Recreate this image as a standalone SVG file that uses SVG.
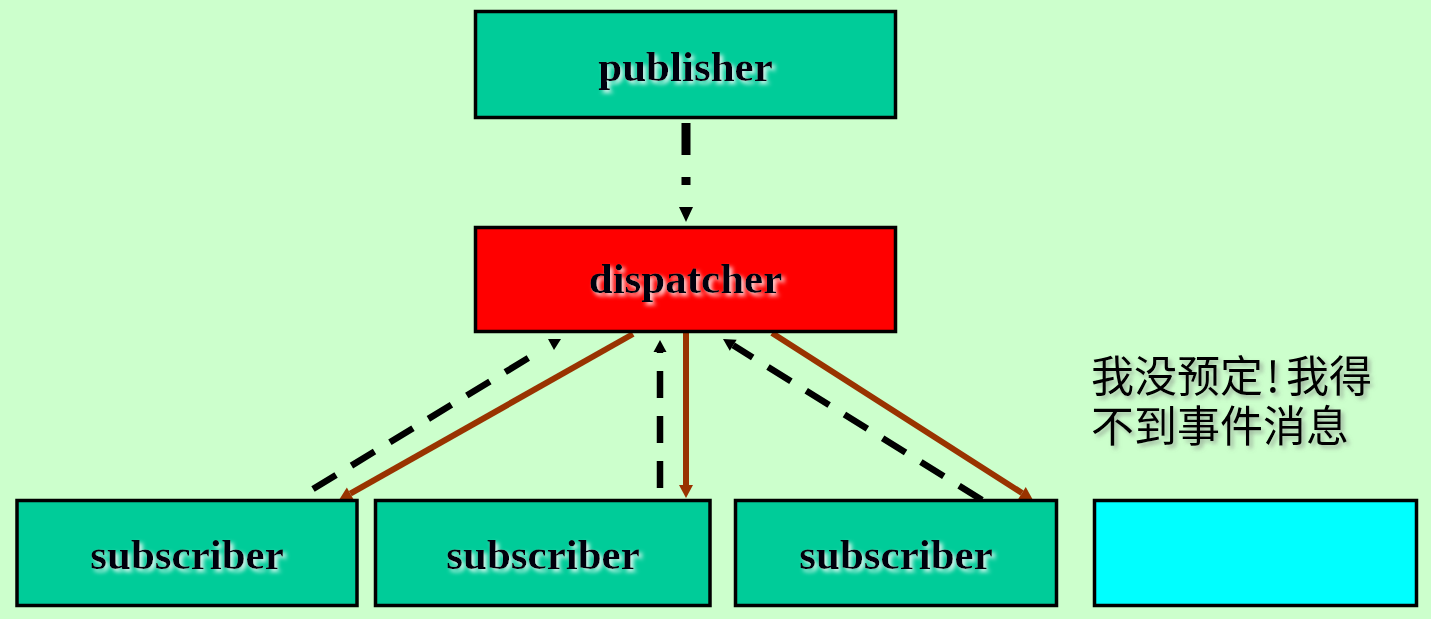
<svg xmlns="http://www.w3.org/2000/svg" width="1431" height="619" viewBox="0 0 1431 619">
<style>
.box{stroke:#000;stroke-width:3.5}
.teal{fill:#00CC99}
.red{fill:#FF0000}
.cyan{fill:#00FFFF}
.lbl{font-family:"Liberation Serif","Times New Roman",serif;font-weight:bold;font-size:43px;fill:#050510;text-anchor:middle;filter:url(#glow)}
.cjk{font-family:"Noto Sans CJK SC","Noto Sans",sans-serif;font-size:43px;fill:#000;filter:url(#shadow)}
.brown{stroke:#993300;stroke-width:6;fill:none}
.dash{stroke:#000;stroke-width:6.5;fill:none;stroke-dasharray:27 18}
</style>
<defs>
<filter id="glow" x="-20%" y="-40%" width="140%" height="180%">
<feGaussianBlur in="SourceAlpha" stdDeviation="2.2" result="b"/>
<feOffset in="b" dx="3" dy="3" result="o"/>
<feFlood flood-color="#ffffff" flood-opacity="0.85"/>
<feComposite in2="o" operator="in" result="s"/>
<feMerge><feMergeNode in="s"/><feMergeNode in="SourceGraphic"/></feMerge>
</filter>
<filter id="shadow" x="-20%" y="-40%" width="140%" height="180%">
<feGaussianBlur in="SourceAlpha" stdDeviation="2" result="b"/>
<feOffset in="b" dx="3" dy="3" result="o"/>
<feFlood flood-color="#777777" flood-opacity="0.55"/>
<feComposite in2="o" operator="in" result="s"/>
<feMerge><feMergeNode in="s"/><feMergeNode in="SourceGraphic"/></feMerge>
</filter>
<marker id="ab" markerUnits="userSpaceOnUse" markerWidth="14" markerHeight="14" refX="0" refY="7" orient="auto" overflow="visible">
<path d="M0,0 L13,7 L0,14 Z" fill="#993300"/>
</marker>
<marker id="ak" markerUnits="userSpaceOnUse" markerWidth="14" markerHeight="14" refX="0" refY="6.5" orient="auto" overflow="visible">
<path d="M0,0 L12,6.5 L0,13 Z" fill="#000"/>
</marker>
</defs>
<rect width="1431" height="619" fill="#CCFFCC"/>

<g id="connectors">
<line x1="686" y1="123" x2="686" y2="196" stroke="#000" stroke-width="9" stroke-dasharray="32 22 8 22"/>
<polygon points="679,207 693,207 686,222" fill="#000"/>

<line class="brown" x1="633" y1="334" x2="350.3" y2="493.6" marker-end="url(#ab)"/>
<line class="brown" x1="686" y1="333" x2="686" y2="485" marker-end="url(#ab)"/>
<line class="brown" x1="772" y1="333" x2="1022" y2="493" marker-end="url(#ab)"/>

<line class="dash" x1="313" y1="489" x2="535" y2="354"/>
<polygon points="548,339 561,339 554,350" fill="#000"/>
<line class="dash" x1="660" y1="488" x2="660" y2="352" marker-end="url(#ak)"/>
<line class="dash" x1="982" y1="500" x2="733.2" y2="345.3" marker-end="url(#ak)"/>
</g>

<g id="publisher">
<rect class="box teal" x="475.5" y="11.5" width="420" height="106"/>
<text class="lbl" x="685.5" y="81">publisher</text>
</g>
<g id="dispatcher">
<rect class="box red" x="475.5" y="227.5" width="420" height="104"/>
<text class="lbl" x="685.5" y="293">dispatcher</text>
</g>
<g id="subscriber1">
<rect class="box teal" x="17" y="500.5" width="340" height="105"/>
<text class="lbl" x="187" y="569">subscriber</text>
</g>
<g id="subscriber2">
<rect class="box teal" x="375.5" y="500.5" width="334.5" height="105"/>
<text class="lbl" x="543" y="569">subscriber</text>
</g>
<g id="subscriber3">
<rect class="box teal" x="735.5" y="500.5" width="321" height="105"/>
<text class="lbl" x="896" y="569">subscriber</text>
</g>
<g id="unsubscribed">
<rect class="box cyan" x="1094.5" y="500.5" width="322" height="105"/>
</g>
<g id="note">
<text class="cjk" x="1091" y="392">我没预定<tspan dx="3">!</tspan><tspan dx="6">我得</tspan></text>
<text class="cjk" x="1091" y="442">不到事件消息</text>
</g>
</svg>
